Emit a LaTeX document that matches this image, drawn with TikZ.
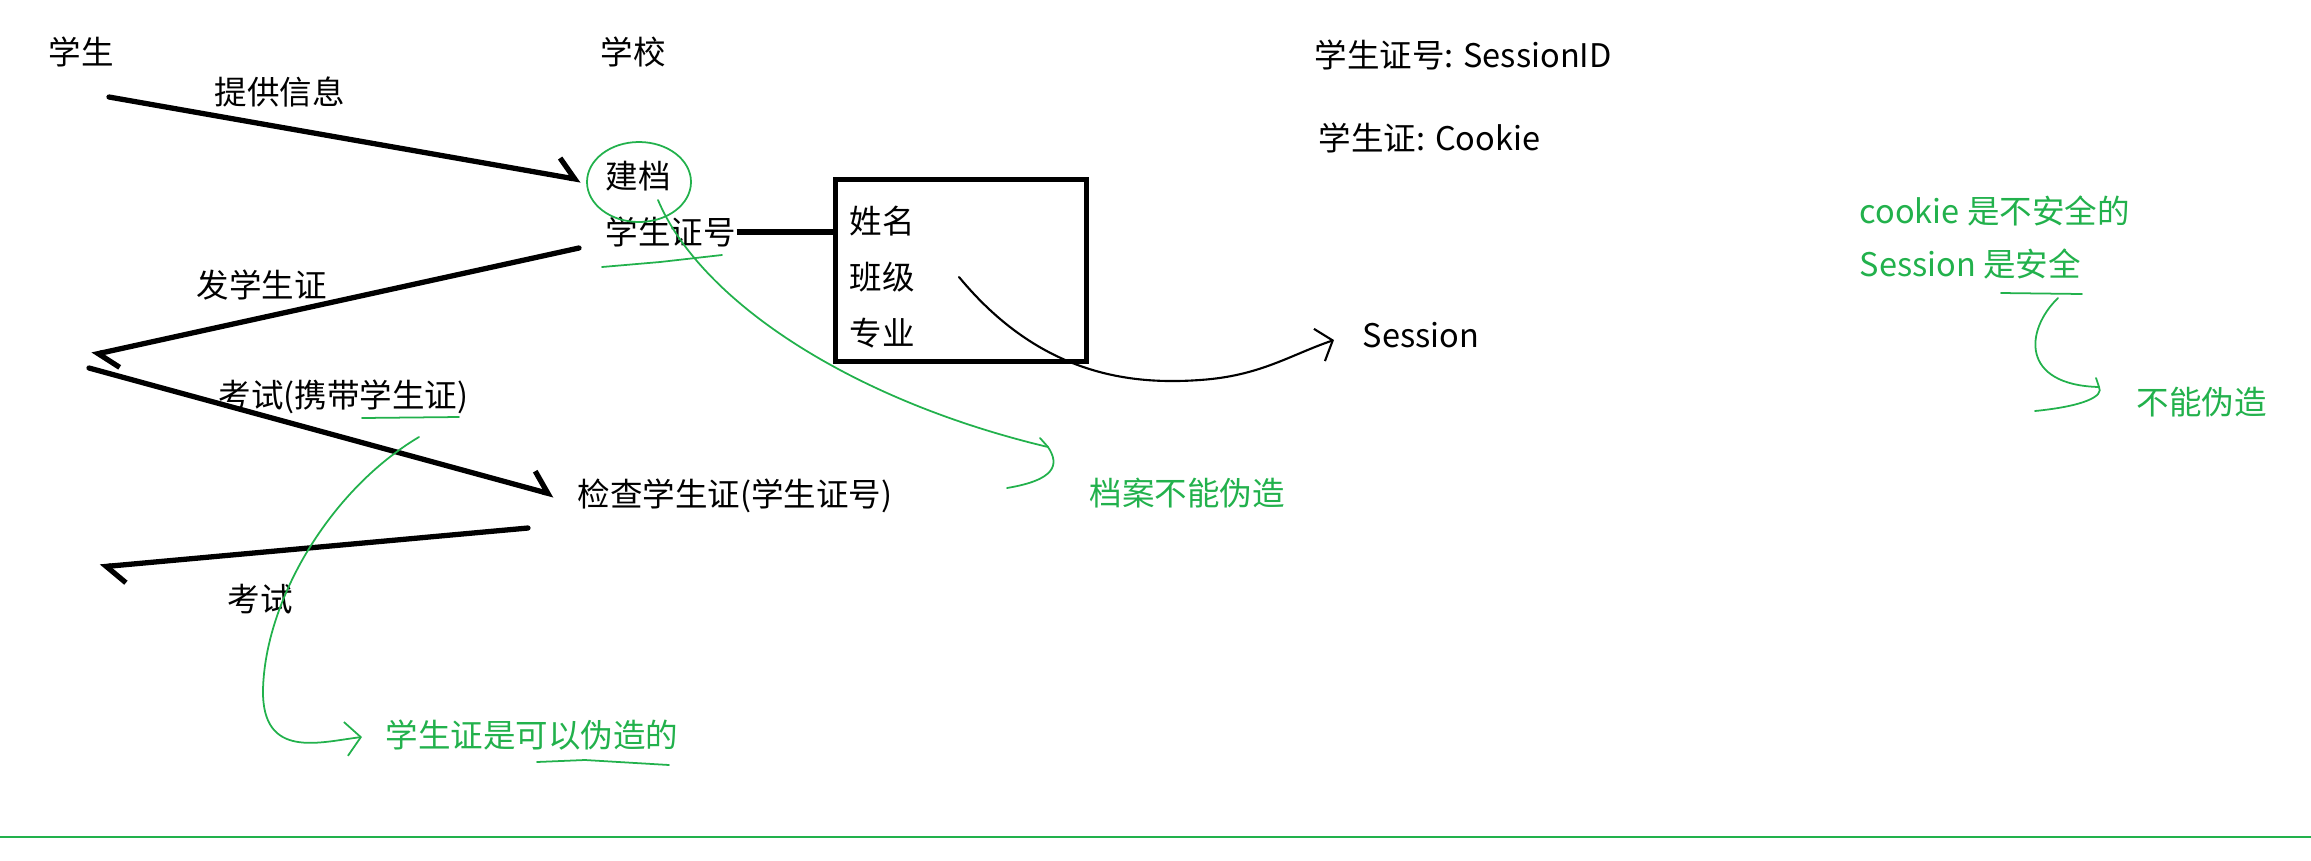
\documentclass[tikz,border=0pt]{standalone}
\usepackage{fontspec}
\setmainfont{Noto Sans CJK SC}
\usepackage{xcolor}
\usetikzlibrary{arrows.meta}
\definecolor{paintgreen}{RGB}{34,177,76}

\begin{document}
\begin{tikzpicture}[x=0.01cm, y=-0.01cm,
    txt/.style = {inner sep=0pt, anchor=west, text height=8.1pt, text depth=1.1pt,
                  font=\fontsize{9.25}{11}\selectfont},
    gtxt/.style = {txt, text=paintgreen},
    flow/.style = {line width=1.5pt, line cap=round, line join=round,
                   -{Straight Barb[harpoon, length=1.8mm, width=3.6mm]}},
    pen/.style = {paintgreen, line width=0.5pt, line cap=round, line join=round},
    thinpen/.style = {black, line width=0.6pt, line cap=round}]
        \useasboundingbox (0,0) rectangle (2311,860);

        % Headers
        \node[txt] (stu) at (48,52) {学生};
        \node[txt] (school) at (600,52) {学校};

        % School side
        \node[txt] (jiandang) at (605,176) {建档};
        \node[txt] (xszh) at (605,232) {学生证号};
        \node[txt] (check) at (577,494) {检查学生证(学生证号)};

        % Arrow labels
        \node[txt] (info) at (214,92) {提供信息};
        \node[txt] (fa) at (196,285) {发学生证};
        \node[txt] (exam1) at (218,395) {考试(携带学生证)};
        \node[txt] (exam2) at (227,599) {考试};

        % Record box
        \node[draw, line width=1.4pt, minimum width=2.5cm, minimum height=1.81cm] (box) at (961,270.5) {};
        \node[txt] (name) at (849,221) {姓名};
        \node[txt] (class) at (849,277) {班级};
        \node[txt] (major) at (849,333) {专业};
        \node[txt] (session) at (1362,335) {Session};

        % Notes on the right
        \node[txt] (sid) at (1314,55) {学生证号: SessionID};
        \node[txt] (cookie) at (1318,138) {学生证: Cookie};
        \node[gtxt] (unsafe) at (1859,211) {cookie 是不安全的};
        \node[gtxt] (safe) at (1859,264) {Session 是安全};
        \node[gtxt] (noforge) at (2136,402) {不能伪造};
        \node[gtxt] (archive) at (1089,493) {档案不能伪造};
        \node[gtxt] (fake) at (385,735) {学生证是可以伪造的};

        % End points of the strokes
        \coordinate (a1s) at (109,97);
        \coordinate (a1e) at (581,180);
        \coordinate (a2s) at (579,248);
        \coordinate (a2e) at (92,355);
        \coordinate (a3s) at (89,368);
        \coordinate (a3e) at (554,495);
        \coordinate (a4s) at (528,528);
        \coordinate (a4e) at (100,567);
        \coordinate (cls) at (959,277);
        \coordinate (sesstip) at (1334,340);
        \coordinate (archtip) at (1048,447);
        \coordinate (faketip) at (362,737);
        \coordinate (nftip) at (2099,387);

        % Message arrows
        \draw[flow] (a1s) -- (a1e);
        \draw[flow] (a2s) -- (a2e);
        \draw[flow] (a3s) -- (a3e);
        \draw[flow] (a4s) -- (a4e);

        % Student number to record
        \draw[line width=1.5pt] (xszh.east) -- (xszh.east -| box.west);

        % Class to Session
        \draw[thinpen, -{Straight Barb[length=1.4mm, width=3.4mm]}] (cls) .. controls (1040,375) and (1130,385) .. (1200,380)
            .. controls (1260,376) and (1290,355) .. (sesstip);

        % Green marks
        \draw[pen] (639,182) ellipse [x radius=52, y radius=40];
        \draw[pen] (658,200) .. controls (700,300) and (850,400) .. (archtip);
        \draw[pen] (1040,438) -- (archtip) .. controls (1060,465) and (1055,480) .. (1007,488);
        \draw[pen, -{Straight Barb[length=1.5mm, width=3.4mm]}] (419,437) .. controls (330,490) and (265,600) .. (263,690)
            .. controls (262,760) and (320,742) .. (faketip);
        \draw[pen] (2058,298) .. controls (2025,330) and (2020,385) .. (nftip);
        \draw[pen] (2096,378) -- (nftip) .. controls (2104,396) and (2085,406) .. (2035,411);

        % Underlines
        \draw[pen] (602,267) -- (660,262) -- (722,255);
        \draw[pen] (362,418) -- (459,417);
        \draw[pen] (537,762) -- (585,760) -- (669,765);
        \draw[pen] (2001,293) -- (2082,294);
        \draw[paintgreen, line width=0.8pt] (0,837) -- (2311,837);
\end{tikzpicture}
\end{document}
